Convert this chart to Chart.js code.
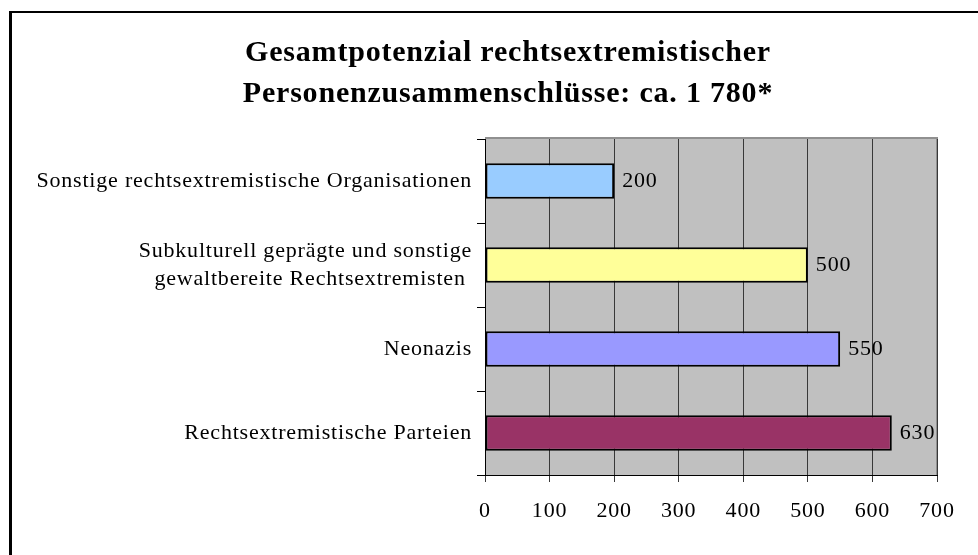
<!DOCTYPE html>
<html>
<head>
<meta charset="utf-8">
<script src="https://cdn.jsdelivr.net/npm/chart.js@4.4.0/dist/chart.umd.min.js"></script>
<style>
  html, body { margin: 0; padding: 0; background: #fff; }
  #wrap { position: relative; width: 978px; height: 555px; overflow: hidden; }
  #frame { position: absolute; left: 9px; top: 11px; width: 2000px; height: 2000px;
           border-left: 3px solid #000; border-top: 2px solid #000; }
  canvas { position: absolute; left: 0; top: 0; }
</style>
</head>
<body>
<div id="wrap">
  <div id="frame"></div>
  <canvas id="c" width="978" height="555"></canvas>
</div>
<script>
const titleLines = ["Gesamtpotenzial rechtsextremistischer", "Personenzusammenschlüsse: ca. 1 780*"];
const categories = [
  "Sonstige rechtsextremistische Organisationen",
  ["Subkulturell geprägte und sonstige", "gewaltbereite Rechtsextremisten "],
  "Neonazis",
  "Rechtsextremistische Parteien"
];
const values = [200, 500, 550, 630];
const barColors = ["#99CCFF", "#FFFF99", "#9999FF", "#993366"];
const xTicks = [0, 100, 200, 300, 400, 500, 600, 700];

const FONT = "'Liberation Serif', 'Times New Roman', serif";

const spacing = {
  id: 'spacing',
  beforeLayout(chart) { chart.ctx.letterSpacing = '0.8px'; },
  beforeDraw(chart) { chart.ctx.letterSpacing = '0.8px'; }
};

const plotBg = {
  id: 'plotBg',
  beforeDraw(chart) {
    const {ctx, chartArea: a} = chart;
    ctx.save();
    ctx.fillStyle = '#C0C0C0';
    ctx.fillRect(a.left, a.top, a.right - a.left, a.bottom - a.top);
    ctx.strokeStyle = '#909090';
    ctx.lineWidth = 2;
    ctx.beginPath();
    ctx.moveTo(a.left, a.top - 1);
    ctx.lineTo(a.right, a.top - 1);
    ctx.lineTo(a.right, a.bottom);
    ctx.stroke();
    ctx.restore();
  }
};

const chartTitle = {
  id: 'chartTitle',
  afterDraw(chart) {
    const {ctx} = chart;
    ctx.save();
    ctx.letterSpacing = '0.8px';
    ctx.font = "bold 30px " + FONT;
    ctx.fillStyle = '#000';
    ctx.textAlign = 'center';
    ctx.textBaseline = 'middle';
    titleLines.forEach((line, i) => {
      ctx.fillText(line, 508, 53 + i * 41);
    });
    ctx.restore();
  }
};

const valueLabels = {
  id: 'valueLabels',
  afterDatasetsDraw(chart) {
    const {ctx} = chart;
    const meta = chart.getDatasetMeta(0);
    ctx.save();
    ctx.font = "22px " + FONT;
    ctx.fillStyle = '#000';
    ctx.textAlign = 'left';
    ctx.textBaseline = 'middle';
    meta.data.forEach((bar, i) => {
      ctx.fillText(String(values[i]), bar.x + 8, bar.y);
    });
    ctx.restore();
  }
};

new Chart(document.getElementById('c'), {
  type: 'bar',
  data: {
    labels: categories,
    datasets: [{
      data: values,
      backgroundColor: barColors,
      borderColor: '#000',
      borderWidth: 2,
      borderSkipped: false,
      categoryPercentage: 1,
      barPercentage: 0.42
    }]
  },
  options: {
    indexAxis: 'y',
    responsive: false,
    animation: false,
    layout: { padding: { left: 0, right: 41, top: 139, bottom: 0 } },
    plugins: {
      legend: { display: false },
      tooltip: { enabled: false },
      title: { display: false }
    },
    scales: {
      x: {
        min: 0, max: 700,
        afterBuildTicks(scale) { scale.ticks = xTicks.map(v => ({value: v})); },
        afterFit(scale) { scale.height = 80; },
        grid: { color: '#383838', lineWidth: 1, tickLength: 7, drawTicks: true },
        border: { color: '#000', width: 1 },
        ticks: { color: '#000', font: { family: FONT, size: 22 }, padding: 16, maxRotation: 0 }
      },
      y: {
        afterFit(scale) { scale.width = 485; },
        grid: { drawOnChartArea: false, color: '#000', tickLength: 8, offset: true },
        border: { color: '#000', width: 1 },
        ticks: { color: '#000', font: { family: FONT, size: 22, lineHeight: 1.27 }, padding: 5, crossAlign: 'near' }
      }
    }
  },
  plugins: [spacing, plotBg, valueLabels, chartTitle]
});
</script>
</body>
</html>
